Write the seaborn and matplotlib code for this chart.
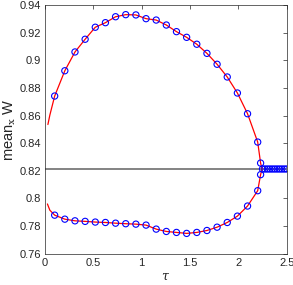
import numpy as np
import pandas as pd
import seaborn as sns
import matplotlib
matplotlib.use("Agg")
import matplotlib.pyplot as plt

# simulation points (tau sampled 0.1 .. 2.2)
tau = [0.1, 0.205, 0.31, 0.415, 0.52, 0.625, 0.73, 0.835, 0.94, 1.045, 1.15,
       1.255, 1.36, 1.465, 1.57, 1.675, 1.78, 1.885, 1.99, 2.095, 2.2]
w_upper = [0.8741, 0.8924, 0.9060, 0.9152, 0.9239, 0.9272, 0.9315, 0.9330,
           0.9328, 0.9301, 0.9291, 0.9255, 0.9207, 0.9166, 0.9116, 0.9050,
           0.8971, 0.8879, 0.8763, 0.8613, 0.8408]
w_lower = [0.7879, 0.7850, 0.7838, 0.7834, 0.7829, 0.7826, 0.7821, 0.7817,
           0.7814, 0.7807, 0.7778, 0.7761, 0.7754, 0.7747, 0.7754, 0.7768,
           0.7792, 0.7826, 0.7872, 0.7945, 0.8056]

# points near the fold
tau_fold = [2.23, 2.23]
w_fold = [0.8256, 0.8172]

# after the fold everything sits on the fixed point
w_fixed = 0.8213
tau_fixed = [2.25, 2.275, 2.3, 2.325, 2.35, 2.375, 2.4, 2.425, 2.45, 2.475, 2.5]

# theory curve (upper branch -> fold -> lower branch)
tau_curve = [0.03, 0.05] + tau + [2.23, 2.245, 2.23] + tau[::-1] + [0.05, 0.025]
w_curve = [0.8535, 0.8603] + w_upper + [0.8256, 0.8213, 0.8172] + w_lower[::-1] + [0.7915, 0.7960]

sim = pd.DataFrame({
    "tau": tau + tau + tau_fold + tau_fixed,
    "W": w_upper + w_lower + w_fold + [w_fixed] * len(tau_fixed),
})
curve = pd.DataFrame({"tau": tau_curve, "W": w_curve})

sns.set_style("white")
plt.rcParams["font.family"] = ["Liberation Sans", "DejaVu Sans"]
plt.rcParams["mathtext.fontset"] = "dejavuserif"

fig = plt.figure(figsize=(2.93, 2.85), dpi=100)
ax = fig.add_axes([0.1536, 0.1098, 0.8249, 0.8727])

ax.axhline(w_fixed, color="#6e6e6e", lw=1.2, zorder=1)
sns.lineplot(data=curve, x="tau", y="W", sort=False, estimator=None,
             color="red", lw=0.9, ax=ax, zorder=2)
sns.scatterplot(data=sim, x="tau", y="W", marker="o", s=20,
                facecolors="none", edgecolor="blue", linewidth=0.8,
                ax=ax, zorder=3)

ax.set_xlim(0, 2.5)
ax.set_ylim(0.76, 0.94)
ax.set_xticks([0, 0.5, 1, 1.5, 2, 2.5])
ax.set_xticklabels(["0", "0.5", "1", "1.5", "2", "2.5"])
ax.set_yticks(np.round(np.arange(0.76, 0.941, 0.02), 2))
ax.set_yticklabels(["0.76", "0.78", "0.8", "0.82", "0.84", "0.86",
                    "0.88", "0.9", "0.92", "0.94"])
ax.tick_params(direction="in", length=3, width=0.5, colors="#262626",
               labelsize=8, top=True, right=True, pad=3)
for s in ax.spines.values():
    s.set_color("#262626")
    s.set_linewidth(0.5)

ax.set_xlabel(r"$\tau$", fontsize=9, color="#262626", labelpad=2)
ax.set_ylabel(r"mean$_{\mathrm{x}}$ W", fontsize=10.5, color="#262626", labelpad=1)

fig.savefig("out.png", dpi=100)
